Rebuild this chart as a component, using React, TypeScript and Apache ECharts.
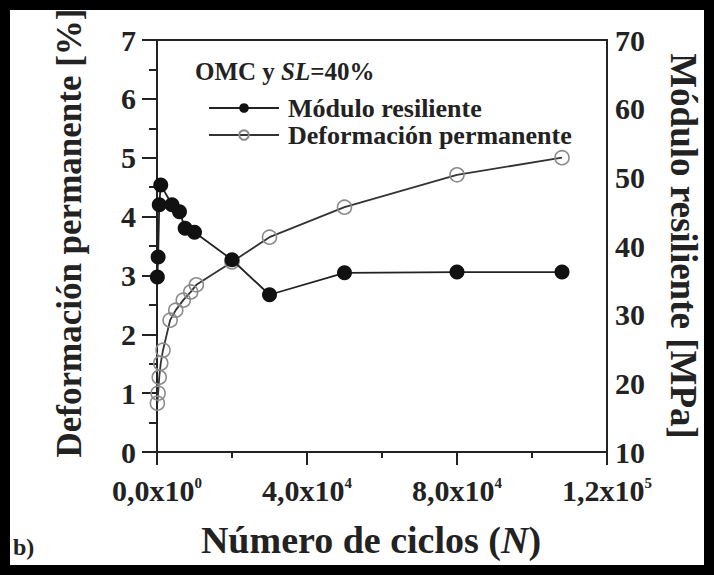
import React, { useEffect, useRef } from "react";
import * as echarts from "echarts";

// Módulo resiliente (MPa, right axis)
const cyclesModulo = [100, 300, 600, 1000, 4000, 6000, 7500, 10000, 20000, 30000, 50000, 80000, 108000];
const moduloMPa = [35.5, 38.4, 46.0, 48.9, 46.0, 45.0, 42.6, 42.0, 38.0, 32.9, 36.1, 36.2, 36.2];

// Deformación permanente (%, left axis)
const cyclesDef = [100, 300, 600, 1000, 1600, 3500, 5000, 7000, 9000, 10500, 20000, 30000, 50000, 80000, 108000];
const deformacionPct = [0.83, 1.0, 1.27, 1.51, 1.73, 2.24, 2.41, 2.58, 2.72, 2.84, 3.23, 3.65, 4.16, 4.71, 5.0];

// x tick labels: mantissa + exponent
const xTickValues = [0, 40000, 80000, 120000];
const xTickMantissa = ["0,0x10", "4,0x10", "8,0x10", "1,2x10"];
const xTickExponent = ["0", "4", "4", "5"];

const seriesNames = ["Módulo resiliente", "Deformación permanente"];

const FONT = '"Liberation Serif", "Times New Roman", serif';
const INK = "#222";

export default function App() {
  const ref = useRef<HTMLDivElement>(null);
  useEffect(() => {
    document.body.style.margin = "0";
    const chart = echarts.init(ref.current!, null, { renderer: "svg" });
    chart.setOption({
      animation: false,
      backgroundColor: "#fff",
      textStyle: { fontFamily: FONT },
      grid: {
        left: 157,
        right: 107,
        top: 40,
        bottom: 123,
        show: true,
        borderColor: INK,
        borderWidth: 2,
        backgroundColor: "transparent",
      },
      legend: {
        left: 203,
        top: 90,
        orient: "vertical",
        itemWidth: 70,
        itemHeight: 12,
        itemGap: 1,
        data: seriesNames,
        textStyle: {
          fontFamily: FONT,
          fontSize: 26,
          fontWeight: "bold",
          color: INK,
          padding: [0, 0, 0, 4],
        },
      },
      xAxis: {
        type: "value",
        min: 0,
        max: 120000,
        interval: 40000,
        splitLine: { show: false },
        axisLine: { show: true, lineStyle: { color: INK, width: 2 } },
        axisTick: { show: true, inside: false, length: 13, lineStyle: { color: INK, width: 2 } },
        minorTick: { show: true, splitNumber: 2, length: 6, lineStyle: { color: INK, width: 2 } },
        minorSplitLine: { show: false },
        axisLabel: {
          margin: 23,
          formatter: (v: number) => {
            const i = xTickValues.indexOf(v);
            if (i < 0) return "";
            return `{m|${xTickMantissa[i]}}{e|${xTickExponent[i]}}`;
          },
          rich: {
            m: { fontFamily: FONT, fontSize: 30, fontWeight: "bold", color: INK },
            e: { fontFamily: FONT, fontSize: 15, fontWeight: "bold", color: INK, verticalAlign: "top" },
          },
        },
        name: "{t|Número de ciclos (}{n|N}{t|)}",
        nameLocation: "middle",
        nameGap: 69,
        nameTextStyle: {
          padding: [0, 22, 0, 0],
          rich: {
            t: { fontFamily: FONT, fontSize: 38, fontWeight: "bold", color: INK },
            n: { fontFamily: FONT, fontSize: 38, fontWeight: "bold", fontStyle: "italic", color: INK },
          },
        },
      },
      yAxis: [
        {
          type: "value",
          position: "left",
          min: 0,
          max: 7,
          interval: 1,
          splitLine: { show: false },
          axisLine: { show: true, lineStyle: { color: INK, width: 2 } },
          axisTick: { show: true, inside: false, length: 15, lineStyle: { color: INK, width: 2 } },
          minorTick: { show: true, splitNumber: 2, length: 8, lineStyle: { color: INK, width: 2 } },
          minorSplitLine: { show: false },
          axisLabel: { margin: 21, fontFamily: FONT, fontSize: 30, fontWeight: "bold", color: INK },
          name: "Deformación permanente [%]",
          nameLocation: "middle",
          nameRotate: 90,
          nameGap: 70,
          nameTextStyle: {
            fontFamily: FONT,
            fontSize: 35,
            fontWeight: "bold",
            color: INK,
            padding: [0, 0, 0, 26],
          },
        },
        {
          type: "value",
          position: "right",
          min: 10,
          max: 70,
          interval: 10,
          splitLine: { show: false },
          axisLine: { show: true, lineStyle: { color: INK, width: 2 } },
          axisTick: { show: false },
          axisLabel: { margin: 8, fontFamily: FONT, fontSize: 30, fontWeight: "bold", color: INK },
          name: "Módulo resiliente [MPa]",
          nameLocation: "middle",
          nameRotate: -90,
          nameGap: 58,
          nameTextStyle: { fontFamily: FONT, fontSize: 37, fontWeight: "bold", color: INK },
        },
      ],
      series: [
        {
          name: seriesNames[0],
          type: "line",
          yAxisIndex: 1,
          z: 3,
          data: cyclesModulo.map((c, i) => [c, moduloMPa[i]]),
          symbol: "circle",
          symbolSize: 15,
          itemStyle: { color: "#111" },
          lineStyle: { color: "#222", width: 1.8 },
        },
        {
          name: seriesNames[1],
          type: "line",
          yAxisIndex: 0,
          z: 2,
          data: cyclesDef.map((c, i) => [c, deformacionPct[i]]),
          symbol: "circle",
          symbolSize: 14,
          itemStyle: { color: "rgba(255,255,255,0)", borderColor: "#8a8a8a", borderWidth: 1.6 },
          lineStyle: { color: "#333", width: 1.8 },
        },
      ],
      graphic: [
        {
          type: "rect",
          silent: true,
          shape: { x: 5, y: 5, width: 704, height: 565 },
          style: { fill: "none", stroke: "#000", lineWidth: 10 },
        },
        {
          type: "text",
          left: 195,
          top: 59,
          style: {
            text: "{b|OMC y }{i|SL}{b|=40%}",
            rich: {
              b: { fontFamily: FONT, fontSize: 25, fontWeight: "bold", fill: INK },
              i: { fontFamily: FONT, fontSize: 25, fontWeight: "bold", fontStyle: "italic", fill: INK },
            },
          },
        },
        {
          type: "text",
          left: 13,
          top: 535,
          style: { text: "b)", fontFamily: FONT, fontSize: 24, fontWeight: "bold", fill: INK },
        },
      ],
    });
    return () => chart.dispose();
  }, []);
  return <div ref={ref} style={{ width: 714, height: 575 }} />;
}
